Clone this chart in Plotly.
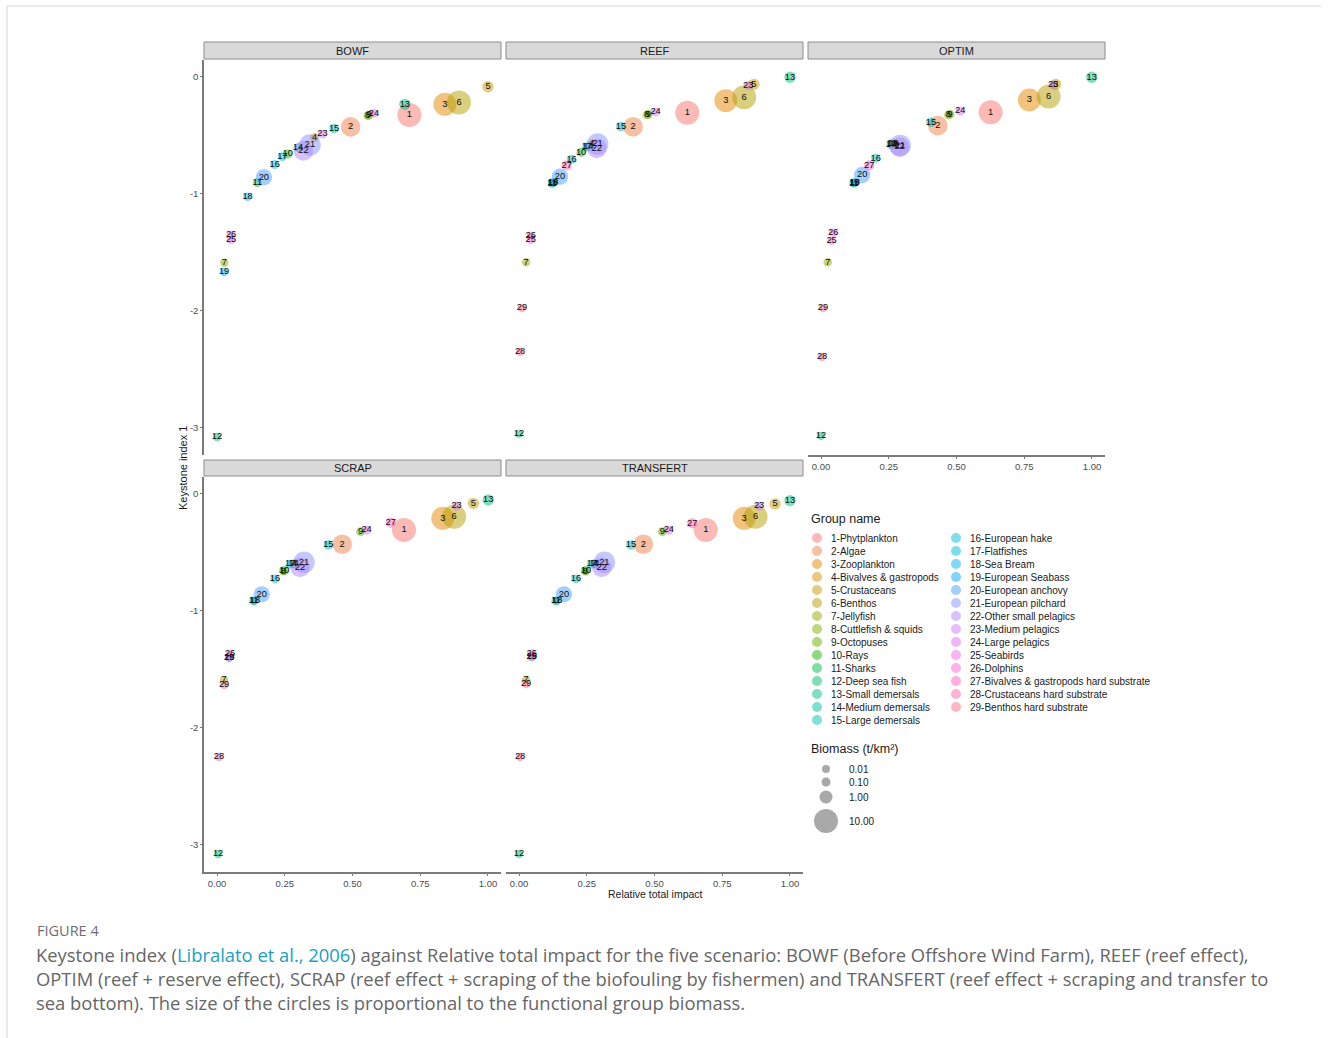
import numpy as np
import plotly.graph_objects as go

W, H = 1328, 1038

scenarios = ["BOWF", "REEF", "OPTIM", "SCRAP", "TRANSFERT"]

group_names = [
    "1-Phytplankton", "2-Algae", "3-Zooplankton", "4-Bivalves & gastropods",
    "5-Crustaceans", "6-Benthos", "7-Jellyfish", "8-Cuttlefish & squids",
    "9-Octopuses", "10-Rays", "11-Sharks", "12-Deep sea fish",
    "13-Small demersals", "14-Medium demersals", "15-Large demersals",
    "16-European hake", "17-Flatfishes", "18-Sea Bream", "19-European Seabass",
    "20-European anchovy", "21-European pilchard", "22-Other small pelagics",
    "23-Medium pelagics", "24-Large pelagics", "25-Seabirds", "26-Dolphins",
    "27-Bivalves & gastropods hard substrate", "28-Crustaceans hard substrate",
    "29-Benthos hard substrate",
]

# biomass (t/km2) per group (estimated from circle sizes)
biomass = [10, 4, 8, 0.1, 0.4, 10, 0.03, 0.05, 0.1, 0.1, 0.05, 0.02, 0.4, 0.1,
           0.15, 0.1, 0.05, 0.03, 0.02, 2, 6, 4, 0.1, 0.08, 0.01, 0.02, 0.2,
           0.02, 0.03]

# Relative total impact (x) and Keystone index 1 (y), groups 1..29
bowf_x = [0.710, 0.493, 0.841, 0.360, 1.000, 0.893, 0.027, 0.556, 0.561, 0.261,
          0.149, 0.000, 0.693, 0.299, 0.432, 0.213, 0.241, 0.113, 0.026, 0.173,
          0.343, 0.319, 0.389, 0.579, 0.052, 0.052, None, None, None]
bowf_y = [-0.325, -0.427, -0.234, -0.519, -0.083, -0.219, -1.587, -0.330, -0.325,
          -0.658, -0.903, -3.077, -0.234, -0.604, -0.442, -0.749, -0.681, -1.023,
          -1.667, -0.858, -0.581, -0.632, -0.487, -0.311, -1.393, -1.350, None,
          None, None]

reef_x = [0.621, 0.421, 0.763, 0.269, 0.867, 0.831, 0.026, 0.472, 0.477, 0.229,
          0.122, 0.000, 1.000, 0.256, 0.376, 0.194, 0.250, 0.126, 0.124, 0.151,
          0.290, 0.287, 0.846, 0.504, 0.043, 0.043, 0.176, 0.004, 0.011]
reef_y = [-0.305, -0.425, -0.202, -0.573, -0.063, -0.174, -1.584, -0.325, -0.319,
          -0.644, -0.910, -3.051, -0.003, -0.595, -0.425, -0.704, -0.600, -0.900,
          -0.903, -0.852, -0.573, -0.610, -0.074, -0.299, -1.393, -1.356, -0.755,
          -2.350, -1.974]

optim_x = [0.626, 0.431, 0.769, 0.270, 0.866, 0.840, 0.025, 0.470, 0.476, 0.262,
           0.121, 0.000, 0.999, 0.268, 0.406, 0.202, 0.258, 0.125, 0.123, 0.152,
           0.292, 0.290, 0.857, 0.514, 0.039, 0.045, 0.178, 0.004, 0.007]
optim_y = [-0.302, -0.416, -0.197, -0.575, -0.063, -0.168, -1.584, -0.325, -0.319,
           -0.570, -0.908, -3.068, -0.003, -0.572, -0.387, -0.695, -0.580, -0.900,
           -0.903, -0.838, -0.585, -0.600, -0.068, -0.291, -1.402, -1.331, -0.755,
           -2.393, -1.974]

scrap_x = [0.690, 0.462, 0.833, 0.285, 0.946, 0.875, 0.026, 0.245, 0.530, 0.248,
           0.135, 0.004, 1.001, 0.282, 0.411, 0.214, 0.270, 0.140, 0.045, 0.165,
           0.321, 0.306, 0.884, 0.552, 0.045, 0.048, 0.641, 0.007, 0.026]
scrap_y = [-0.308, -0.430, -0.208, -0.600, -0.080, -0.194, -1.590, -0.660, -0.322,
           -0.655, -0.915, -3.077, -0.051, -0.598, -0.436, -0.726, -0.600, -0.910,
           -1.400, -0.858, -0.584, -0.627, -0.103, -0.308, -1.396, -1.368, -0.245,
           -2.248, -1.632]

transfert_x = [0.689, 0.459, 0.831, 0.282, 0.945, 0.873, 0.026, 0.244, 0.529, 0.247,
               0.136, 0.000, 1.000, 0.278, 0.413, 0.210, 0.268, 0.141, 0.047, 0.166,
               0.315, 0.305, 0.886, 0.553, 0.047, 0.047, 0.639, 0.004, 0.026]
transfert_y = [-0.308, -0.430, -0.208, -0.600, -0.085, -0.194, -1.590, -0.660, -0.322,
               -0.655, -0.915, -3.077, -0.057, -0.598, -0.436, -0.726, -0.600, -0.910,
               -1.395, -0.858, -0.584, -0.627, -0.103, -0.308, -1.391, -1.363, -0.251,
               -2.248, -1.624]

x_ticks = [0, 0.25, 0.5, 0.75, 1.0]
x_ticklabels = ["0.00", "0.25", "0.50", "0.75", "1.00"]
y_ticks = [0, -1, -2, -3]
y_ticklabels = ["0", "-1", "-2", "-3"]

size_breaks = [0.01, 0.1, 1.0, 10.0]
size_break_labels = ["0.01", "0.10", "1.00", "10.00"]

data = {
    "BOWF": (bowf_x, bowf_y), "REEF": (reef_x, reef_y), "OPTIM": (optim_x, optim_y),
    "SCRAP": (scrap_x, scrap_y), "TRANSFERT": (transfert_x, transfert_y),
}

# ---------- style helpers ----------
def hcl_to_hex(h, c=100.0, l=65.0):
    Xn, Yn, Zn = 95.047, 100.0, 108.883
    un = 4 * Xn / (Xn + 15 * Yn + 3 * Zn)
    vn = 9 * Yn / (Xn + 15 * Yn + 3 * Zn)
    hr = np.deg2rad(h)
    u, v = c * np.cos(hr), c * np.sin(hr)
    Y = Yn * ((l + 16) / 116) ** 3 if l > 8 else Yn * l / 903.3
    up = u / (13 * l) + un
    vp = v / (13 * l) + vn
    X = Y * 9 * up / (4 * vp)
    Z = Y * (12 - 3 * up - 20 * vp) / (4 * vp)
    X, Y, Z = X / 100, Y / 100, Z / 100
    r = 3.2404542 * X - 1.5371385 * Y - 0.4985314 * Z
    g = -0.9692660 * X + 1.8760108 * Y + 0.0415560 * Z
    b = 0.0556434 * X - 0.2040259 * Y + 1.0572252 * Z
    out = []
    for cc in (r, g, b):
        cc = 12.92 * cc if cc <= 0.0031308 else 1.055 * cc ** (1 / 2.4) - 0.055
        out.append(int(round(min(max(cc, 0), 1) * 255)))
    return "#%02X%02X%02X" % tuple(out)

n = len(group_names)
hues = np.linspace(15, 375, n + 1)[:-1]
colors = [hcl_to_hex(h) for h in hues]

leg_diam = [8, 9, 13, 24]
def bsize(b):
    return float(np.interp(np.log10(b), np.log10(size_breaks), leg_diam))

FONT = "Liberation Sans"
AX_COL = "#7a7a7a"

def px_x(p):
    return p / W

def px_y(p):
    return 1 - p / H

cols_px = [(204, 501), (506, 803), (808, 1105)]
rows_px = [(60, 455), (477, 872)]
strips_px = [(42, 59), (460, 476)]
positions = {"BOWF": (0, 0), "REEF": (0, 1), "OPTIM": (0, 2),
             "SCRAP": (1, 0), "TRANSFERT": (1, 1)}

fig = go.Figure()
shapes = []
annotations = []

for i, sc in enumerate(scenarios, start=1):
    r, c = positions[sc]
    xs, ys = data[sc]
    idx = [k for k in range(n) if xs[k] is not None]
    xa = "x" if i == 1 else f"x{i}"
    ya = "y" if i == 1 else f"y{i}"
    fig.add_trace(go.Scatter(
        x=[xs[k] for k in idx], y=[ys[k] for k in idx], mode="markers",
        marker=dict(color=[colors[k] for k in idx],
                    size=[bsize(biomass[k]) for k in idx],
                    opacity=0.5, line=dict(width=0)),
        xaxis=xa, yaxis=ya, showlegend=False, hoverinfo="skip"))
    fig.add_trace(go.Scatter(
        x=[xs[k] for k in idx], y=[ys[k] for k in idx], mode="text",
        text=[str(k + 1) for k in idx], textposition="middle center",
        textfont=dict(family=FONT, size=9.3, color="#0d0d0d"),
        xaxis=xa, yaxis=ya, showlegend=False, hoverinfo="skip"))

    x0, x1 = cols_px[c]
    y0, y1 = rows_px[r]
    show_x = (r == 1) or sc == "OPTIM"
    show_y = (c == 0)
    xkey = "xaxis" if i == 1 else f"xaxis{i}"
    ykey = "yaxis" if i == 1 else f"yaxis{i}"
    fig.update_layout(**{
        xkey: dict(domain=[px_x(x0), px_x(x1)], range=[-0.048, 1.048],
                   anchor=ya, showgrid=False, zeroline=False,
                   showline=show_x, linecolor=AX_COL, linewidth=1.5,
                   ticks="outside" if show_x else "", ticklen=2, tickcolor=AX_COL,
                   tickvals=x_ticks, ticktext=x_ticklabels, showticklabels=show_x,
                   tickfont=dict(family=FONT, size=9.5, color="#4d4d4d"),
                   fixedrange=True),
        ykey: dict(domain=[px_y(y1), px_y(y0)], range=[-3.231, 0.145],
                   anchor=xa, showgrid=False, zeroline=False,
                   showline=show_y, linecolor=AX_COL, linewidth=1.5,
                   ticks="outside" if show_y else "", ticklen=2, tickcolor=AX_COL,
                   tickvals=y_ticks, ticktext=y_ticklabels, showticklabels=show_y,
                   tickfont=dict(family=FONT, size=9.5, color="#4d4d4d"),
                   fixedrange=True),
    })
    s0, s1 = strips_px[r]
    shapes.append(dict(type="rect", xref="paper", yref="paper",
                       x0=px_x(x0), x1=px_x(x1), y0=px_y(s1), y1=px_y(s0),
                       fillcolor="#D9D9D9", line=dict(color="#8c8c8c", width=1)))
    annotations.append(dict(text=sc, xref="paper", yref="paper",
                            x=px_x((x0 + x1) / 2), y=px_y((s0 + s1) / 2 + 0.5),
                            showarrow=False, xanchor="center", yanchor="middle",
                            font=dict(family=FONT, size=11, color="#1a1a1a")))

# ---------- legend overlay axis (pixel coordinates) ----------
leg_cx, leg_cy = [], []
for k in range(n):
    col = 0 if k < 15 else 1
    row = k if k < 15 else k - 15
    cx = 817 + 139 * col
    cy = 538 + 13 * row
    leg_cx.append(cx)
    leg_cy.append(cy)
    annotations.append(dict(text=group_names[k], xref="x6", yref="y6",
                            x=cx + 12, y=cy, showarrow=False, xanchor="left",
                            yanchor="middle",
                            font=dict(family=FONT, size=10, color="#1a1a1a")))
fig.add_trace(go.Scatter(x=leg_cx, y=leg_cy, mode="markers",
                         marker=dict(color=colors, size=10, opacity=0.5,
                                     line=dict(width=0)),
                         xaxis="x6", yaxis="y6", showlegend=False, hoverinfo="skip"))

size_y = [769, 782, 797, 821]
fig.add_trace(go.Scatter(x=[826] * 4, y=size_y, mode="markers",
                         marker=dict(color="#858585", size=[bsize(b) for b in size_breaks],
                                     line=dict(width=0)),
                         xaxis="x6", yaxis="y6", showlegend=False, hoverinfo="skip"))
for lab, yy in zip(size_break_labels, size_y):
    annotations.append(dict(text=lab, xref="x6", yref="y6", x=847, y=yy,
                            showarrow=False, xanchor="left", yanchor="middle",
                            font=dict(family=FONT, size=10, color="#1a1a1a")))

annotations.append(dict(text="Group name", xref="x6", yref="y6", x=809, y=519,
                        showarrow=False, xanchor="left", yanchor="middle",
                        font=dict(family=FONT, size=12.5, color="#1a1a1a")))
annotations.append(dict(text="Biomass (t/km²)", xref="x6", yref="y6", x=809, y=749,
                        showarrow=False, xanchor="left", yanchor="middle",
                        font=dict(family=FONT, size=12.5, color="#1a1a1a")))

# axis titles
annotations.append(dict(text="Keystone index 1", xref="paper", yref="paper",
                        x=px_x(183), y=px_y(468), showarrow=False, textangle=-90,
                        xanchor="center", yanchor="middle",
                        font=dict(family=FONT, size=11, color="#1a1a1a")))
annotations.append(dict(text="Relative total impact", xref="paper", yref="paper",
                        x=px_x(655), y=px_y(894), showarrow=False,
                        xanchor="center", yanchor="middle",
                        font=dict(family=FONT, size=10.5, color="#1a1a1a")))

# caption
CAP = "Open Sans"
annotations.append(dict(text="FIGURE 4", xref="paper", yref="paper",
                        x=px_x(35), y=px_y(930), showarrow=False,
                        xanchor="left", yanchor="middle",
                        font=dict(family=CAP, size=14.5, color="#6e6e6e")))
link = "<span style='color:#1a9fc4'>Libralato et al., 2006</span>"
cap_lines = [
    "Keystone index (" + link + ") against Relative total impact for the five scenario: BOWF (Before Offshore Wind Farm), REEF (reef effect),",
    "OPTIM (reef + reserve effect), SCRAP (reef effect + scraping of the biofouling by fishermen) and TRANSFERT (reef effect + scraping and transfer to",
    "sea bottom). The size of the circles is proportional to the functional group biomass.",
]
for j, line in enumerate(cap_lines):
    annotations.append(dict(text=line, xref="paper", yref="paper",
                            x=px_x(34), y=px_y(954 + 24 * j), showarrow=False,
                            xanchor="left", yanchor="middle",
                            font=dict(family=CAP, size=18.4, color="#666666")))

# page frame
shapes.append(dict(type="line", xref="paper", yref="paper", x0=px_x(7), x1=px_x(1321),
                   y0=px_y(6), y1=px_y(6), line=dict(color="#d6d6d6", width=1)))
shapes.append(dict(type="line", xref="paper", yref="paper", x0=px_x(7), x1=px_x(7),
                   y0=px_y(6), y1=0, line=dict(color="#d6d6d6", width=1)))

fig.update_layout(
    xaxis6=dict(domain=[0, 1], range=[0, W], visible=False, anchor="y6", fixedrange=True),
    yaxis6=dict(domain=[0, 1], range=[H, 0], visible=False, anchor="x6", fixedrange=True),
    width=W, height=H, autosize=False,
    margin=dict(l=0, r=0, t=0, b=0),
    paper_bgcolor="white", plot_bgcolor="rgba(0,0,0,0)",
    shapes=shapes, annotations=annotations, showlegend=False,
)

fig.write_html("out.html", config={"displayModeBar": False},
               post_script="document.body.style.margin='0';")
